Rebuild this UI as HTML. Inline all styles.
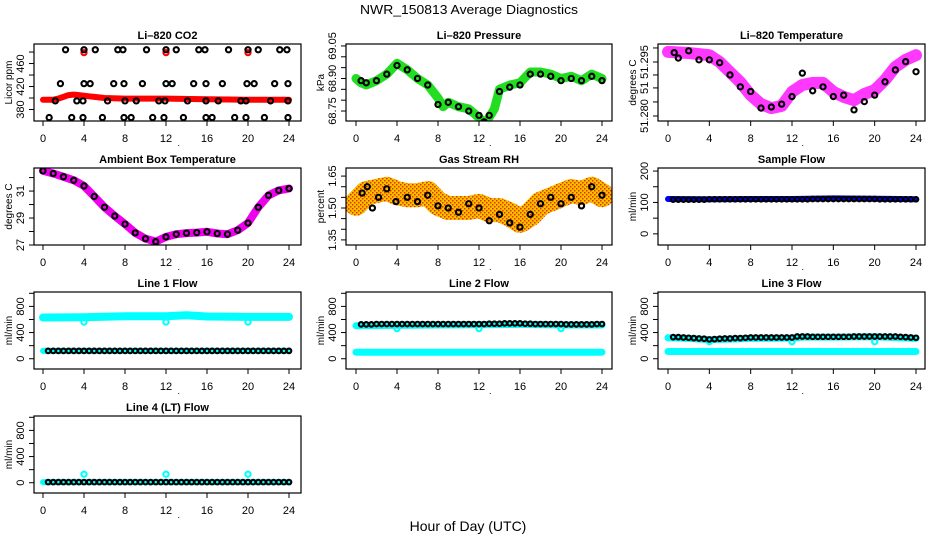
<!DOCTYPE html>
<html><head><meta charset="utf-8"><title>NWR_150813 Average Diagnostics</title>
<style>
html,body{margin:0;padding:0;background:#fff;}
svg{display:block;font-family:"Liberation Sans",sans-serif;}
</style></head>
<body>
<svg id="chart" width="936" height="540" viewBox="0 0 936 540">
<defs>
<pattern id="rhDots" width="4" height="4" patternUnits="userSpaceOnUse">
<rect width="4" height="4" fill="#f4c000"/>
<rect x="0" y="0" width="1.5" height="1.5" fill="#e83000"/>
<rect x="2" y="2" width="1.5" height="1.5" fill="#e83000"/>
</pattern>
</defs>
<text x="469" y="14" text-anchor="middle" font-size="13" textLength="218" lengthAdjust="spacingAndGlyphs">NWR_150813  Average Diagnostics</text>
<text x="468" y="531" text-anchor="middle" font-size="14">Hour of Day (UTC)</text>
</svg>
<script>
// ---------- data ----------
const xTicks=[0,4,8,12,16,20,24];
const flowHours=[0.5,1,1.5,2,2.5,3,3.5,4,4.5,5,5.5,6,6.5,7,7.5,8,8.5,9,9.5,10,10.5,11,11.5,12,12.5,13,13.5,14,14.5,15,15.5,16,16.5,17,17.5,18,18.5,19,19.5,20,20.5,21,21.5,22,22.5,23,23.5,24];

// CO2
const co2BlackHours=[2.2,4,5.1,7.3,7.8,10.1,12,13,15.2,15.8,18.1,20,21,23.1,23.8, 1.7,4,4.6,6.9,7.9,9.7,12,12.6,14.7,15.9,17.5,19.9,20.6,22.6,23.9, 1.2,3.3,3.9,6.3,8,9.1,11.3,11.9,14.1,15.9,17.1,19.3,19.8,22.2,23.9, 0.6,2.8,3.9,5.8,7.9,8.6,10.7,11.8,13.7,15.9,16.5,18.7,19.8,21.6,23.9];
const co2BlackVals=[484,484,484,484,484,484,484,484,484,484,484,484,484,484,484, 425,425,425,425,425,425,425,425,425,425,425,425,425,425,425, 395,395,395,395,395,395,395,395,395,395,395,395,395,395,395, 366,366,366,366,366,366,366,366,366,366,366,366,366,366,366];
const co2RedHours=[0,1,1.5,2,2.5,3,3.5,4,4.5,5,6,8,12,16,20,24];
const co2RedVals=[397,397,399,402,405,406,405,404,403,402,400,399,399,398,397,397];
const co2RedSpikeHours=[4,12,20];
const co2RedSpikeVals=[479,479,479];

// Pressure
const presBandHours=[0,0.5,1,2,3,4,5,6,7,8,8.5,9,10,11,12,12.6,13.5,14,15,16,17,18,19,20,21,22,23,24];
const presBandVals=[68.90,68.88,68.87,68.89,68.92,68.97,68.94,68.90,68.87,68.81,68.77,68.79,68.77,68.76,68.72,68.69,68.76,68.85,68.87,68.88,68.93,68.93,68.92,68.90,68.91,68.89,68.92,68.90];
const presBlackHours=[0.5,1,2,3,4,5,6,7,8,9,10,11,12,12.5,13,14,15,16,17,18,19,20,21,22,23,24];
const presBlackVals=[68.89,68.88,68.89,68.92,68.96,68.94,68.90,68.87,68.78,68.79,68.77,68.75,68.73,68.70,68.73,68.84,68.86,68.87,68.92,68.92,68.91,68.89,68.90,68.89,68.91,68.89];

// Li-820 temperature
const tempBandHours=[0,2,4,5,6,7,8,9,10,11,12,13,14,15,16,17,18,19,20,21,22,23,24];
const tempBandVals=[51.2978,51.2975,51.2969,51.2950,51.2922,51.2894,51.2858,51.2833,51.2822,51.2828,51.2867,51.2886,51.2892,51.2892,51.2867,51.2853,51.2844,51.2861,51.2872,51.2900,51.2936,51.2956,51.2969];
const tempBlackHours=[0.6,1,2,3,4,5,6,7,8,9,10,11,12,13,14,15,16,17,18,19,20,21,22,23,24];
const tempBlackVals=[51.2976,51.2961,51.2981,51.2956,51.2956,51.2948,51.2914,51.2881,51.2868,51.2822,51.2825,51.2833,51.2854,51.2919,51.2870,51.2881,51.2854,51.2858,51.2817,51.2840,51.2858,51.2895,51.2928,51.2951,51.2923];

// Ambient box temperature
const ambHours=[0,1,2,3,4,5,6,7,8,9,10,11,12,13,14,15,16,17,18,19,20,21,22,23,24];
const ambVals=[32.5,32.3,32.06,31.8,31.38,30.6,29.8,29.15,28.55,27.9,27.47,27.25,27.6,27.8,27.88,27.92,27.98,27.85,27.8,28.1,28.63,29.8,30.68,31.05,31.19];

// Gas stream RH
const rhBandHours=[0,1,2,3,4,5,6,7,8,9,10,11,12,13,14,15,16,17,18,19,20,21,22,23,24];
const rhBandVals=[1.52,1.57,1.58,1.59,1.57,1.56,1.56,1.57,1.52,1.50,1.50,1.50,1.51,1.49,1.49,1.47,1.44,1.47,1.52,1.54,1.56,1.58,1.57,1.59,1.56];
const rhBlackHours=[0.6,1.1,1.6,2.2,3,3.9,5,6,7,8,9,10,11,12,13,14,15,16,17,18,19,20,21,22,23,24];
const rhBlackVals=[1.57,1.60,1.50,1.55,1.59,1.53,1.55,1.53,1.56,1.51,1.50,1.48,1.52,1.50,1.44,1.47,1.43,1.41,1.47,1.52,1.55,1.52,1.55,1.51,1.60,1.56];

// Sample flow
const sampBandHours=[0,4,8,12,16,20,24];
const sampBandVals=[111,110,111,111,113,112,110];
const sampBlackVals=[109,109,109,109,109,109,109,110,110,110,110,110,110,110,110,110,110,110,110,110,110,110,110,110,110,110,110,111,111,111,111,111,111,111,111,111,111,111,111,111,110,110,110,110,110,110,110,110];

// Line 1 flow
const l1UpHours=[0,4,8,12,14,16,20,24];
const l1UpVals=[630,635,650,650,665,645,640,640];
const l1LowHours=[0,24];
const l1LowVals=[120,120];
const l1DipHours=[4,12,20];
const l1DipVals=[560,560,560];
const l1BlackVals=[120,120,120,120,120,120,120,120,120,120,120,120,120,120,120,120,120,120,120,120,120,120,120,120,120,120,120,120,120,120,120,120,120,120,120,120,120,120,120,120,120,120,120,120,120,120,120,120];

// Line 2 flow
const l2UpHours=[0,4,8,12,16,20,24];
const l2UpVals=[505,510,515,520,525,515,515];
const l2LowHours=[0,24];
const l2LowVals=[100,100];
const l2DipHours=[4,12,20];
const l2DipVals=[460,460,460];
const l2BlackVals=[525,525,525,530,530,530,530,530,530,530,530,530,530,530,530,530,530,530,530,530,530,530,530,530,530,535,535,535,540,540,540,540,535,535,530,530,530,530,530,530,525,525,525,525,525,525,530,530];

// Line 3 flow
const l3UpHours=[0,2,4,6,8,12,13,16,20,24];
const l3UpVals=[320,310,290,300,310,315,330,330,335,310];
const l3LowHours=[0,24];
const l3LowVals=[110,110];
const l3DipHours=[4,12,20];
const l3DipVals=[260,260,260];
const l3BlackVals=[330,330,325,320,315,310,305,295,300,305,310,310,315,315,320,325,325,325,325,325,325,325,325,325,340,340,340,335,335,335,335,335,335,335,335,340,340,340,340,340,340,340,340,340,335,330,325,320];

// Line 4 flow
const l4BandHours=[0,24];
const l4BandVals=[10,10];
const l4SpikeHours=[4,12,20];
const l4SpikeVals=[130,130,130];
const l4BlackVals=[10,10,10,10,10,10,10,10,10,10,10,10,10,10,10,10,10,10,10,10,10,10,10,10,10,10,10,10,10,10,10,10,10,10,10,10,10,10,10,10,10,10,10,10,10,10,10,10];

// ---------- drawing ----------
const NS='http://www.w3.org/2000/svg';
const svg=document.getElementById('chart');
const cols=[{bx0:34,bx1:301,px0:43,px1:289},{bx0:346,bx1:612,px0:356,px1:602},{bx0:658,bx1:925,px0:668,px1:916}];
const rowTops=[44,168,292,416];
function mk(tag,attrs,parent){const e=document.createElementNS(NS,tag);for(const k in attrs)e.setAttribute(k,attrs[k]);(parent||svg).appendChild(e);return e;}

function panel(name,title,ytitle,row,col,ymin,ymax,ticks,labels){
  const c=cols[col],by0=rowTops[row],by1=by0+77;
  const g=mk('g',{});
  
  
  const x=h=>c.px0+h/24*(c.px1-c.px0);
  const y=v=>by1-(v-ymin)/(ymax-ymin)*(by1-by0);
  const cid='clip-'+name;
  const cp=mk('clipPath',{id:cid},g);mk('rect',{x:c.bx0,y:by0,width:c.bx1-c.bx0,height:by1-by0},cp);
  const plot=mk('g',{'clip-path':'url(#'+cid+')'},g);
  
  
  const box=mk('rect',{x:c.bx0,y:by0,width:c.bx1-c.bx0,height:by1-by0,fill:'none',stroke:'#000','stroke-width':1.2},g);
  
  
  const t=mk('text',{x:(c.bx0+c.bx1)/2,y:by0-5,'text-anchor':'middle','font-size':11,'font-weight':'bold'},g);
  t.textContent=title;
  
  
  const yt=mk('text',{x:c.bx0-22,y:(by0+by1)/2,'text-anchor':'middle','font-size':10,transform:'rotate(-90 '+(c.bx0-22)+' '+((by0+by1)/2)+')'},g);
  yt.textContent=ytitle;
  
  
  const xa=mk('g',{},g);
  
  
  mk('line',{x1:x(0),x2:x(24),y1:by1,y2:by1,stroke:'#000'},xa);
  xTicks.forEach(h=>{
    mk('line',{x1:x(h),x2:x(h),y1:by1,y2:by1+5,stroke:'#000'},xa);
    const tl=mk('text',{x:x(h),y:by1+21,'text-anchor':'middle','font-size':11},xa);
    tl.textContent=String(h);
    
    
  });
  const dot=mk('text',{x:(c.bx0+c.bx1)/2+10,y:by1+25,'font-size':9},xa);dot.textContent='.';
  const ya=mk('g',{},g);
  
  
  ticks.forEach((v,i)=>{
    mk('line',{x1:c.bx0-5,x2:c.bx0,y1:y(v),y2:y(v),stroke:'#000'},ya);
    if(labels[i]){
      const lx=c.bx0-10;
      const tl=mk('text',{x:lx,y:y(v),'text-anchor':'middle','font-size':11,transform:'rotate(-90 '+lx+' '+y(v)+')'},ya);
      tl.textContent=labels[i];
      
      
    }
  });
  return {x,y,plot};
}
function band(p,hs,vs,color,w,name,op){
  const pts=hs.map((h,i)=>p.x(h).toFixed(1)+','+p.y(vs[i]).toFixed(1)).join(' ');
  const l=mk('polyline',{points:pts,fill:'none',stroke:color,'stroke-width':w,'stroke-linejoin':'round','stroke-linecap':'round','stroke-opacity':op||1},p.plot);
  
  
}
function rings(p,hs,vs,color,name,r){
  hs.forEach((h,i)=>{
    const c=mk('circle',{cx:p.x(h),cy:p.y(vs[i]),r:r||2.6,fill:'none',stroke:color,'stroke-width':2.1},p.plot);
    
    
  });
}

// Panel 1: CO2
let p=panel('co2','Li\u2013820 CO2','Licor ppm',0,0,360,494,[380,400,420,440,460,480],['380','','420','','460','']);
band(p,co2RedHours,co2RedVals,'#ff0000',6,'co2-red-band');
rings(p,co2RedSpikeHours,co2RedSpikeVals,'#ff0000','co2-red-point');
rings(p,co2BlackHours,co2BlackVals,'#000','co2-black-point');

// Panel 2: Pressure
p=panel('pressure','Li\u2013820 Pressure','kPa',0,1,68.704,69.059,[68.75,68.80,68.85,68.90,68.95,69.00,69.05],['68.75','','','68.90','','','69.05']);
band(p,presBandHours,presBandVals,'#22dd22',9,'pressure-green-band');
rings(p,presBlackHours,presBlackVals,'#000','pressure-black-point');

// Panel 3: Li-820 Temperature
p=panel('li820-temp','Li\u2013820 Temperature','degrees C',0,2,51.27861,51.3000,[51.2989,51.2950,51.2914,51.2878,51.2839,51.2800],['','51.295','','51','','51.280']);
band(p,tempBandHours,tempBandVals,'#ff22ff',12,'li820-temp-magenta-band',0.9);
rings(p,tempBlackHours,tempBlackVals,'#000','li820-temp-black-point');

// Panel 4: Ambient
p=panel('ambient','Ambient Box Temperature','degrees C',1,0,27.0,32.71,[27,28,29,30,31,32],['27','','29','','31','']);
band(p,ambHours,ambVals,'#ee00ee',8,'ambient-magenta-band');
rings(p,ambHours,ambVals,'#000','ambient-black-point');

// Panel 5: RH
p=panel('rh','Gas Stream RH','percent',1,1,1.326,1.688,[1.35,1.40,1.45,1.50,1.55,1.60,1.65],['1.35','','','1.50','','','1.65']);
band(p,rhBandHours,rhBandVals,'url(#rhDots)',24,'rh-orange-band');
rings(p,rhBlackHours,rhBlackVals,'#000','rh-black-point');

// Panel 6: Sample flow
p=panel('sample-flow','Sample Flow','ml/min',1,2,-35.5,209.7,[0,50,100,150,200],['0','','100','','200']);
band(p,sampBandHours,sampBandVals,'#0000ee',6,'sample-flow-blue-band');
rings(p,flowHours,sampBlackVals,'#000','sample-flow-black-point',2.3);

const flowTicks=[0,200,400,600,800,1000];
const flowLabels=['0','','400','','800',''];
// Line 1
p=panel('line1-flow','Line 1 Flow','ml/min',2,0,-157,1020,flowTicks,flowLabels);
band(p,l1UpHours,l1UpVals,'#00ffff',8,'line1-cyan-upper-band');
band(p,l1LowHours,l1LowVals,'#00ffff',6,'line1-cyan-lower-band');
rings(p,l1DipHours,l1DipVals,'#00ffff','line1-cyan-dip');
rings(p,flowHours,l1BlackVals,'#000','line1-black-point',2.3);
// Line 2
p=panel('line2-flow','Line 2 Flow','ml/min',2,1,-157,1020,flowTicks,flowLabels);
band(p,l2UpHours,l2UpVals,'#00ffff',7,'line2-cyan-upper-band');
band(p,l2LowHours,l2LowVals,'#00ffff',7,'line2-cyan-lower-band');
rings(p,l2DipHours,l2DipVals,'#00ffff','line2-cyan-dip');
rings(p,flowHours,l2BlackVals,'#000','line2-black-point',2.3);
// Line 3
p=panel('line3-flow','Line 3 Flow','ml/min',2,2,-157,1020,flowTicks,flowLabels);
band(p,l3UpHours,l3UpVals,'#00ffff',7,'line3-cyan-upper-band');
band(p,l3LowHours,l3LowVals,'#00ffff',7,'line3-cyan-lower-band');
rings(p,l3DipHours,l3DipVals,'#00ffff','line3-cyan-dip');
rings(p,flowHours,l3BlackVals,'#000','line3-black-point',2.3);
// Line 4
p=panel('line4-flow','Line 4 (LT) Flow','ml/min',3,0,-157,1020,flowTicks,flowLabels);
band(p,l4BandHours,l4BandVals,'#00ffff',6,'line4-cyan-band');
rings(p,l4SpikeHours,l4SpikeVals,'#00ffff','line4-cyan-spike');
rings(p,flowHours,l4BlackVals,'#000','line4-black-point',2.3);
</script>
</body></html>
